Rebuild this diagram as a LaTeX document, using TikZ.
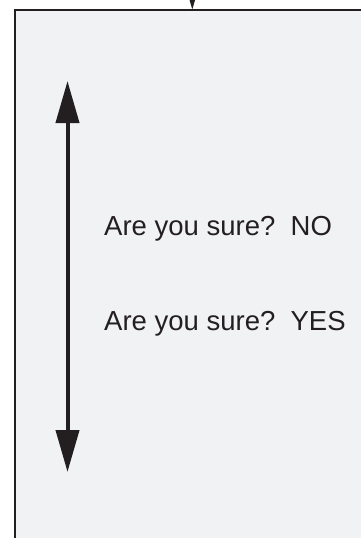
\documentclass[tikz,border=0pt]{standalone}
\usepackage{fontspec}
\setmainfont{Liberation Sans}
\usetikzlibrary{arrows.meta}
\definecolor{panelgray}{HTML}{F1F2F4}
\definecolor{inkblack}{HTML}{231F20}

\begin{document}
\begin{tikzpicture}[x=1pt,y=-1pt,
  sure/.style={anchor=base west,inner sep=0pt,text=inkblack,font=\fontsize{27.5}{32}\selectfont},
  scroll/.style={draw=inkblack,line width=4pt,{Triangle[length=42pt,width=23pt]}-{Triangle[length=42pt,width=23pt]}}]
\useasboundingbox (0,0) rectangle (361,538);
\clip (0,0) rectangle (361,538);

%panel (right and bottom edge are cut off)
\draw[fill=panelgray,draw=inkblack,line width=2.4pt] (14.7,10) rectangle (390,570);

%arrow coming in from above
\coordinate (feed) at (192.3,-30);
\coordinate (entry) at (192.3,9.5);
\draw[draw=inkblack,line width=1pt,-{Triangle[length=10pt,width=5.5pt]}] (feed) -- (entry);

%scroll arrow
\coordinate (top) at (67.5,81);
\coordinate (bottom) at (67.5,472);
\draw[scroll] (top) -- (bottom);

%\node[sure] (prompt) at (104,282) {Are you sure?};
\node[sure] (no) at (104,235) {Are you sure?~~NO};
\node[sure] (yes) at (104,330) {Are you sure?~~YES};

\end{tikzpicture}
\end{document}
